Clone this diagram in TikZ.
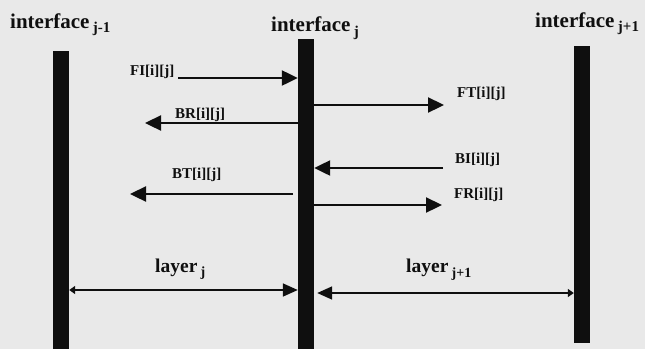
\documentclass[tikz,border=0pt]{standalone}
\usepackage{fontspec}
\setmainfont{Liberation Serif}
\usetikzlibrary{arrows.meta}
\definecolor{paper}{RGB}{233,233,233}
\definecolor{ink}{RGB}{15,15,15}
% lowered index after a word
\newcommand{\lowidx}[2]{\raisebox{-#1}{#2}}
\begin{document}
\begin{tikzpicture}[x=1pt,y=-1pt,
  bar/.style={fill=ink, draw=none, inner sep=0pt, minimum width=16pt},
  flow/.style={draw=ink, line width=2.3pt, -{Triangle[length=16pt,width=15pt]}},
  span/.style={draw=ink, line width=1.7pt},
  big/.tip={Triangle[length=15pt,width=13pt]},
  small/.tip={Triangle[length=6pt,width=8pt]},
  head/.style={inner sep=0pt, anchor=base west, text=ink,
    font=\fontsize{21}{24}\selectfont\bfseries},
  tag/.style={inner sep=0pt, anchor=west, text=ink,
    font=\fontsize{15}{17}\selectfont\bfseries},
  layertag/.style={inner sep=0pt, anchor=base west, text=ink,
    font=\fontsize{19.5}{23}\selectfont\bfseries}
]
\fill[paper] (0,0) rectangle (645,349);
\useasboundingbox (0,0) rectangle (645,349);

% interfaces
\node[bar, minimum height=298pt] (barL) at (61,200) {};
\node[bar, minimum height=310pt] (barM) at (306,194) {};
\node[bar, minimum height=297pt] (barR) at (582,194.5) {};

\node[head] (hL) at (10,28) {interface\,\lowidx{4pt}{\fontsize{15}{17}\selectfont j-1}};
\node[head] (hM) at (271,31) {interface\,\lowidx{5pt}{\fontsize{15}{17}\selectfont j}};
\node[head] (hR) at (535,27) {interface\,\lowidx{4pt}{\fontsize{15}{17}\selectfont j+1}};

% free ends of the flows
\coordinate (fiS) at (178,78);
\coordinate (brE) at (145,123);
\coordinate (ftE) at (444,105);
\coordinate (biS) at (443,168);
\coordinate (btS) at (293,194);
\coordinate (btE) at (130,194);
\coordinate (frE) at (442,205);

\draw[flow] (fiS) -- (barM.west |- fiS);
\draw[flow] (barM.west |- brE) -- (brE);
\draw[flow] (barM.east |- ftE) -- (ftE);
\draw[flow] (biS) -- (barM.east |- biS);
\draw[flow] (btS) -- (btE);
\draw[flow] (barM.east |- frE) -- (frE);

\node[tag] (tFI) at (130,72) {FI[i][j]};
\node[tag] (tBR) at (175,115) {BR[i][j]};
\node[tag] (tFT) at (457,94) {FT[i][j]};
\node[tag] (tBI) at (455,160) {BI[i][j]};
\node[tag] (tBT) at (172,175) {BT[i][j]};
\node[tag] (tFR) at (454,195) {FR[i][j]};

% layers between interfaces
\coordinate (lj) at (0,290);
\coordinate (lk) at (0,293);
\draw[span, small-big] (barL.east |- lj) -- (barM.west |- lj);
\draw[span, big-small] ([xshift=3pt]barM.east |- lk) -- (barR.west |- lk);

\node[layertag] (tLj) at (155,272) {layer\,\lowidx{4pt}{\fontsize{14}{17}\selectfont j}};
\node[layertag] (tLk) at (406,272) {layer\,\lowidx{5pt}{\fontsize{14}{17}\selectfont j+1}};
\end{tikzpicture}
\end{document}
